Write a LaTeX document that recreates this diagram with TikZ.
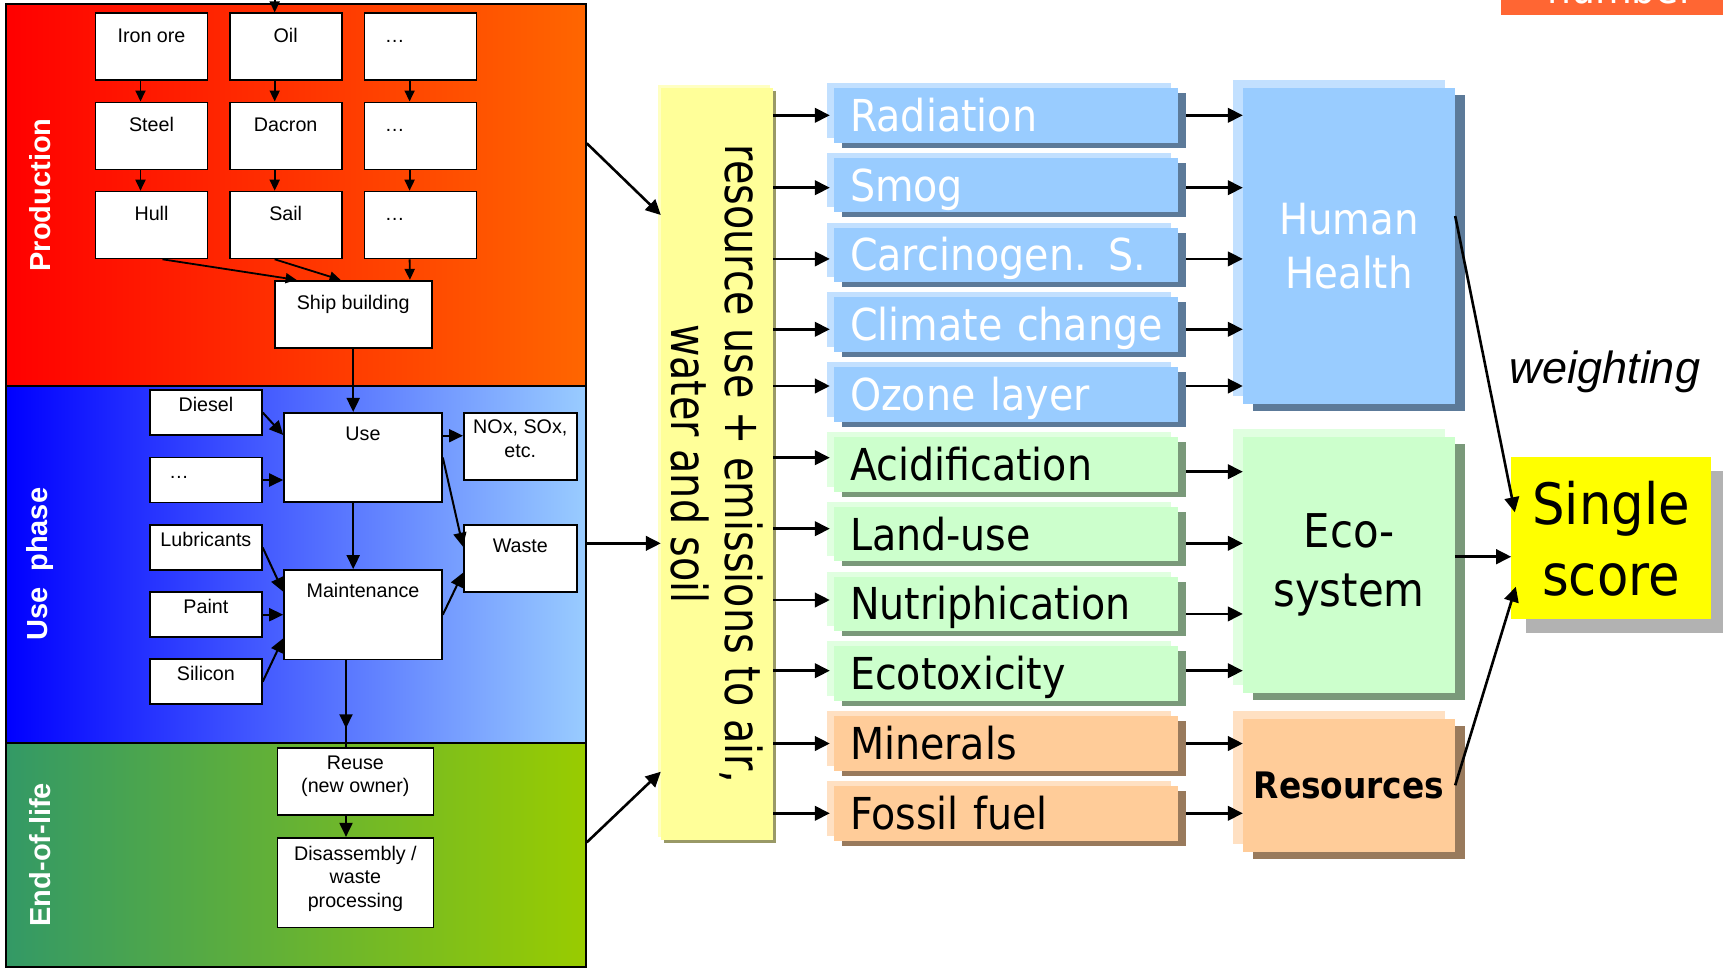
\documentclass[tikz,border=0pt]{standalone}
\usepackage{fontspec}
\setmainfont{Liberation Sans}
\newfontfamily\tahoma{DejaVu Sans}[FakeStretch=0.9]
\newfontfamily\tahomanarrow{DejaVu Sans}[FakeStretch=0.8]
\usetikzlibrary{arrows.meta,shadows}

\definecolor{prodred}{HTML}{FF0000}
\definecolor{prodorange}{HTML}{FF6600}
\definecolor{useblue}{HTML}{0000FF}
\definecolor{uselight}{HTML}{99CCFF}
\definecolor{eolgreen}{HTML}{339966}
\definecolor{eollime}{HTML}{99CC00}
\definecolor{baryellow}{HTML}{FFFF99}
\definecolor{barlight}{HTML}{FFFFC2}
\definecolor{barkhaki}{HTML}{999966}
\definecolor{hhblue}{HTML}{99CCFF}
\definecolor{ecogreen}{HTML}{CCFFCC}
\definecolor{resorange}{HTML}{FFCC99}
\definecolor{scoreyellow}{HTML}{FFFF00}
\definecolor{tagorange}{HTML}{FF6633}

\tikzset{
  panel/.style={draw, line width=1.6pt, minimum width=580pt, inner sep=0pt},
  phase/.style={rotate=90, text=white, font=\fontsize{29pt}{34pt}\selectfont\bfseries},
  pbox/.style={draw, line width=1.6pt, fill=white, inner sep=0pt, minimum width=112pt, minimum height=67pt},
  ptext/.style={anchor=north, inner sep=0pt, align=center, font=\fontsize{19.7pt}{23.5pt}\selectfont},
  parrow/.style={line width=1.8pt, -{Triangle[length=11pt,width=10pt]}},
  uarrow/.style={line width=2pt, -{Triangle[length=14pt,width=13pt]}},
  barrow/.style={line width=2.6pt, -{Triangle[length=15pt,width=14.5pt]}},
  impact/.style={rectangle, fill=#1, minimum height=54.5pt, text width=312pt, inner xsep=16pt, inner ysep=0pt,
    text height=32pt, text depth=0pt, align=left, font=\tahoma\fontsize{44pt}{53pt}\selectfont,
    general shadow={shadow xshift=8pt, shadow yshift=-5pt, fill=#1!60!black},
    general shadow={shadow xshift=-7pt, shadow yshift=5pt, fill=#1!60!white}},
  category/.style={rectangle, fill=#1, minimum width=212pt, align=center, inner sep=0pt,
    general shadow={shadow xshift=10pt, shadow yshift=-7pt, fill=#1!60!black},
    general shadow={shadow xshift=-10pt, shadow yshift=8pt, fill=#1!60!white}}
}

\begin{document}
\begin{tikzpicture}[x=1pt,y=-1pt]
  \useasboundingbox (0,0) rectangle (1723,967);

  % life cycle phases
  \node[panel, left color=prodred, right color=prodorange, minimum height=382pt] (prod) at (296,195) {};
  \node[panel, left color=useblue, right color=uselight, minimum height=356.7pt] (usep) at (296,564.35) {};
  \node[panel, left color=eolgreen, right color=eollime, minimum height=224pt] (eol) at (296,854.7) {};
  \node[phase] (prodlbl) at (40,195) {Production};
  \node[phase] (uselbl) at (40,564.35) {Use\ \ phase};
  \node[phase] (eollbl) at (40,854.7) {End-of-life};

  % production
  \node[pbox, label={[ptext, yshift=-13pt]north:\strut Iron ore}] (iron) at (151.5,46.7) {};
  \node[pbox, label={[ptext, yshift=-13pt]north:\strut Oil}] (oil) at (285.7,46.7) {};
  \node[pbox, label={[ptext, yshift=-13pt, xshift=-26pt]north:\strut …}] (pdots1) at (420.6,46.7) {};
  \node[pbox, label={[ptext, yshift=-13pt]north:\strut Steel}] (steel) at (151.5,135.8) {};
  \node[pbox, label={[ptext, yshift=-13pt]north:\strut Dacron}] (dacron) at (285.7,135.8) {};
  \node[pbox, label={[ptext, yshift=-13pt, xshift=-26pt]north:\strut …}] (pdots2) at (420.6,135.8) {};
  \node[pbox, label={[ptext, yshift=-13pt]north:\strut Hull}] (hull) at (151.5,225) {};
  \node[pbox, label={[ptext, yshift=-13pt]north:\strut Sail}] (sail) at (285.7,225) {};
  \node[pbox, label={[ptext, yshift=-13pt, xshift=-26pt]north:\strut …}] (pdots3) at (420.6,225) {};
  \node[pbox, minimum width=157pt, label={[ptext, yshift=-13pt]north:\strut Ship building}] (ship) at (353.2,314.2) {};

  % use phase
  \node[pbox, minimum height=45pt, label={[ptext, yshift=-5.3pt]north:\strut Diesel}] (diesel) at (205.9,412.5) {};
  \node[pbox, minimum height=45pt, label={[ptext, yshift=-5.3pt, xshift=-27pt]north:\strut …}] (udots) at (205.9,480) {};
  \node[pbox, minimum height=45pt, label={[ptext, yshift=-5.3pt]north:\strut Lubricants}] (lubric) at (205.9,547.5) {};
  \node[pbox, minimum height=45pt, label={[ptext, yshift=-5.3pt]north:\strut Paint}] (paint) at (205.9,614.7) {};
  \node[pbox, minimum height=45pt, label={[ptext, yshift=-5.3pt]north:\strut Silicon}] (silicon) at (205.9,681.7) {};
  \node[pbox, minimum width=158pt, minimum height=89.5pt, label={[ptext, yshift=-11.6pt]north:\strut Use}] (use) at (363,457.5) {};
  \node[pbox, minimum width=158pt, minimum height=89.5pt, label={[ptext, yshift=-11.6pt]north:\strut Maintenance}] (maint) at (363,614.7) {};
  \node[pbox, minimum width=113pt, label={[ptext, yshift=-5pt]north:{\strut NOx, SOx,\\etc.}}] (nox) at (520.3,446.3) {};
  \node[pbox, minimum width=113pt, label={[ptext, yshift=-11.6pt]north:\strut Waste}] (waste) at (520.3,558.5) {};

  % end of life
  \node[pbox, minimum width=156pt, label={[ptext, yshift=-5.3pt]north:{\strut Reuse\\(new owner)}}] (reuse) at (355.4,781.7) {};
  \node[pbox, minimum width=156pt, minimum height=89.6pt, label={[ptext, yshift=-6.5pt]north:{\strut Disassembly /\\waste\\processing}}] (disas) at (355.4,882.5) {};

  \draw[parrow] ([xshift=-11pt,yshift=20pt]oil.north) -- ([xshift=-11pt]oil.north);
  \draw[parrow] ([xshift=-11pt]iron.south) -- ([xshift=-11pt]steel.north);
  \draw[parrow] ([xshift=-11pt]oil.south) -- ([xshift=-11pt]dacron.north);
  \draw[parrow] ([xshift=-11pt]pdots1.south) -- ([xshift=-11pt]pdots2.north);
  \draw[parrow] ([xshift=-11pt]steel.south) -- ([xshift=-11pt]hull.north);
  \draw[parrow] ([xshift=-11pt]dacron.south) -- ([xshift=-11pt]sail.north);
  \draw[parrow] ([xshift=-11pt]pdots2.south) -- ([xshift=-11pt]pdots3.north);
  \draw[parrow] ([xshift=11pt]hull.south) -- ([xshift=-56.6pt]ship.north);
  \draw[parrow] ([xshift=-11pt]sail.south) -- ([xshift=-12.6pt]ship.north);
  \draw[parrow] ([xshift=-11pt]pdots3.south) -- ([xshift=56.7pt]ship.north);
  \draw[uarrow] (ship.south) -- (ship.south |- use.north);

  \draw[uarrow] (diesel.east) -- ([yshift=22.5pt]use.west);
  \draw[uarrow] (udots.east) -- (udots.east -| use.west);
  \draw[uarrow] (lubric.east) -- ([yshift=23pt]maint.west);
  \draw[uarrow] (paint.east) -- (maint.west);
  \draw[uarrow] (silicon.east) -- ([yshift=-23.6pt]maint.west);
  \draw[uarrow] (use.south -| ship.south) -- (maint.north -| ship.south);
  \draw[uarrow] ([yshift=10.6pt]nox.west -| use.east) -- ([yshift=10.6pt]nox.west);
  \draw[uarrow] (use.east) -- ([yshift=11.8pt]waste.west);
  \draw[uarrow] (maint.east) -- ([yshift=-14.2pt]waste.west);
  \draw[line width=2pt] ([xshift=-17pt]maint.south) -- ([xshift=-9.4pt]reuse.north);
  \draw[uarrow] ([xshift=-17pt]maint.south) -- ++(0,68);
  \draw[uarrow] ([xshift=-9.4pt]reuse.south) -- ([xshift=-9.4pt]disas.north);

  % inventory
  \node[fill=baryellow, minimum width=112pt, minimum height=752pt, inner sep=0pt,
    general shadow={shadow xshift=3pt, shadow yshift=-3pt, fill=barkhaki},
    general shadow={shadow xshift=-3pt, shadow yshift=3pt, fill=barlight}] (yel) at (717,464) {};
  \node[rotate=-90, align=center, font=\tahomanarrow\fontsize{49.6pt}{54pt}\selectfont] (yeltext) at (yel.center)
    {resource use + emissions to air,\\water and soil};

  \draw[barrow] ([yshift=51.7pt]prod.east) -- ([yshift=249pt]yel.west);
  \draw[barrow] ([yshift=21pt]usep.east) -- ([yshift=21pt]usep.east -| yel.west);
  \draw[barrow] ([yshift=12.4pt]eol.east) -- ([yshift=-307.7pt]yel.west);

  % impact categories
  \node[impact=hhblue, text=white] (rad) at (1006,115.3) {Radiation};
  \node[impact=hhblue, text=white] (smog) at (1006,185.1) {Smog};
  \node[impact=hhblue, text=white] (carc) at (1006,254.9) {Carcinogen. S.};
  \node[impact=hhblue, text=white] (clim) at (1006,324.7) {\mbox{Climate change}};
  \node[impact=hhblue, text=white] (ozone) at (1006,394.5) {Ozone layer};
  \node[impact=ecogreen] (acid) at (1006,464.3) {Acidification};
  \node[impact=ecogreen] (land) at (1006,534.1) {Land-use};
  \node[impact=ecogreen] (nutri) at (1006,603.9) {Nutriphication};
  \node[impact=ecogreen] (ecotox) at (1006,673.7) {Ecotoxicity};
  \node[impact=resorange] (miner) at (1006,743.5) {Minerals};
  \node[impact=resorange] (fossil) at (1006,813.3) {Fossil fuel};

  % damage categories
  \node[category=hhblue, minimum height=316pt, text=white, font=\tahoma\fontsize{43pt}{54pt}\selectfont] (hh) at (1349,246) {Human\\Health};
  \node[category=ecogreen, minimum height=256pt, font=\tahoma\fontsize{46.5pt}{59.4pt}\selectfont] (eco) at (1349,564.7) {Eco-\\system};
  \node[category=resorange, minimum height=132.7pt, font=\tahoma\bfseries\fontsize{36.5pt}{44pt}\selectfont] (res) at (1349,785.3) {Resources};

  \node[fill=scoreyellow, minimum width=199.4pt, minimum height=162pt, align=center, inner sep=0pt,
    general shadow={shadow xshift=15pt, shadow yshift=-14pt, fill=black!30},
    font=\tahoma\fontsize{57pt}{71pt}\selectfont] (single) at (1611.1,538.3) {Single\\score};
  \node[anchor=base, font=\itshape\fontsize{45pt}{54pt}\selectfont] (weight) at (1605,383.3) {weighting};
  \node[fill=tagorange, anchor=south west, minimum width=240pt, inner sep=0pt, text height=60pt, text depth=11.3pt,
    text=white, font=\tahoma\fontsize{42pt}{50pt}\selectfont] (numtag) at (1500.7,15.3) {number};

  \draw[barrow] (rad.west -| yel.east) -- ([xshift=-4pt]rad.west);
  \draw[barrow] ([yshift=-2.6pt]smog.west -| yel.east) -- ([xshift=-4pt,yshift=-2.6pt]smog.west);
  \draw[barrow] ([yshift=-4pt]carc.west -| yel.east) -- ([xshift=-4pt,yshift=-4pt]carc.west);
  \draw[barrow] ([yshift=-4.6pt]clim.west -| yel.east) -- ([xshift=-4pt,yshift=-4.6pt]clim.west);
  \draw[barrow] ([yshift=8.5pt]ozone.west -| yel.east) -- ([xshift=-4pt,yshift=8.5pt]ozone.west);
  \draw[barrow] ([yshift=6.6pt]acid.west -| yel.east) -- ([xshift=-4pt,yshift=6.6pt]acid.west);
  \draw[barrow] ([yshift=5.4pt]land.west -| yel.east) -- ([xshift=-4pt,yshift=5.4pt]land.west);
  \draw[barrow] ([yshift=3.9pt]nutri.west -| yel.east) -- ([xshift=-4pt,yshift=3.9pt]nutri.west);
  \draw[barrow] ([yshift=3pt]ecotox.west -| yel.east) -- ([xshift=-4pt,yshift=3pt]ecotox.west);
  \draw[barrow] (miner.west -| yel.east) -- ([xshift=-4pt]miner.west);
  \draw[barrow] (fossil.west -| yel.east) -- ([xshift=-4pt]fossil.west);

  \draw[barrow] ([xshift=8pt]rad.east) -- (rad.east -| hh.west);
  \draw[barrow] ([xshift=8pt,yshift=-2.6pt]smog.east) -- ([yshift=-2.6pt]smog.east -| hh.west);
  \draw[barrow] ([xshift=8pt,yshift=-4pt]carc.east) -- ([yshift=-4pt]carc.east -| hh.west);
  \draw[barrow] ([xshift=8pt,yshift=-4.6pt]clim.east) -- ([yshift=-4.6pt]clim.east -| hh.west);
  \draw[barrow] ([xshift=8pt,yshift=8.5pt]ozone.east) -- ([yshift=8.5pt]ozone.east -| hh.west);
  \draw[barrow] ([xshift=8pt,yshift=-7.4pt]acid.east) -- ([yshift=-7.4pt]acid.east -| eco.west);
  \draw[barrow] ([xshift=8pt,yshift=-9.2pt]land.east) -- ([yshift=-9.2pt]land.east -| eco.west);
  \draw[barrow] ([xshift=8pt,yshift=-10pt]nutri.east) -- ([yshift=-10pt]nutri.east -| eco.west);
  \draw[barrow] ([xshift=8pt,yshift=3pt]ecotox.east) -- ([yshift=3pt]ecotox.east -| eco.west);
  \draw[barrow] ([xshift=8pt]miner.east) -- (miner.east -| res.west);
  \draw[barrow] ([xshift=8pt]fossil.east) -- (fossil.east -| res.west);

  \draw[barrow] ([yshift=30pt]hh.east) -- ([xshift=3.6pt,yshift=26pt]single.west);
  \draw[barrow] ([yshift=8pt]eco.east) -- ([yshift=8pt]eco.east -| single.west);
  \draw[barrow] (res.east) -- ([xshift=4.6pt,yshift=-48.4pt]single.west);
\end{tikzpicture}
\end{document}
